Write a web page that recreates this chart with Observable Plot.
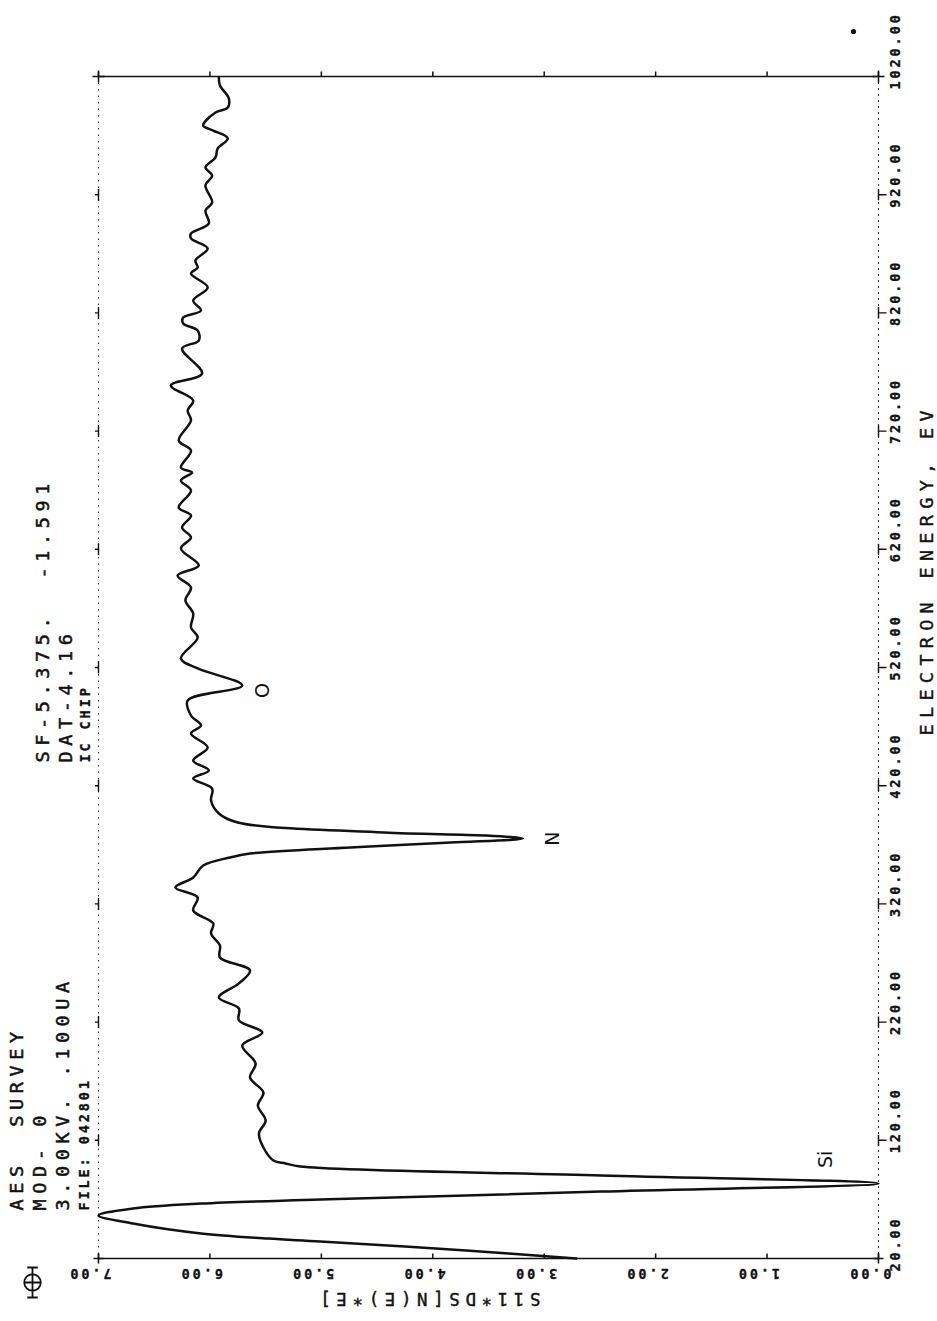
<!DOCTYPE html>
<html>
<head>
<meta charset="utf-8">
<script src="https://cdn.jsdelivr.net/npm/d3@7"></script>
<script src="https://cdn.jsdelivr.net/npm/@observablehq/plot@0.6"></script>
<style>
  html, body { margin: 0; padding: 0; background: #fff; }
  #chart svg { display: block; }
  #chart svg text { white-space: pre; }
  g[aria-description="plotter-large"] text { letter-spacing: 5.6px; }
  g[aria-description="plotter-title"] text { letter-spacing: 6.3px; }
  g[aria-description="plotter-small"] text { letter-spacing: 2.9px; }
</style>
</head>
<body>
<div id="chart"></div>
<script>
// AES survey spectrum, IC chip: derivative signal vs electron energy
const energyEV = [20.0, 26.8, 34.4, 36.9, 41.2, 49.6, 56.4, 62.3, 66.5, 69.9,
  76.6, 83.5, 90.2, 97.8, 100.4, 102.9, 113.9, 125.8, 136.8, 149.4,
  160.4, 173.1, 185.0, 200.2, 211.2, 221.4, 231.5, 240.8, 252.7, 263.7,
  274.7, 284.8, 295.0, 303.4, 314.4, 325.4, 333.9, 342.3, 352.5, 359.3,
  362.6, 367.7, 371.9, 375.3, 377.9, 380.4, 388.9, 396.5, 407.5, 417.6,
  426.1, 432.9, 441.3, 452.3, 464.2, 470.9, 479.4, 492.1, 504.8, 519.2,
  527.6, 545.4, 553.8, 565.7, 576.7, 587.7, 597.8, 606.3, 620.7, 630.0,
  638.4, 648.6, 655.4, 669.7, 678.2, 685.0, 689.2, 703.6, 712.0, 729.0,
  737.4, 745.9, 758.6, 768.7, 789.9, 796.6, 805.1, 811.0, 816.1, 822.0,
  830.5, 841.5, 853.3, 858.4, 864.3, 874.5, 883.0, 887.2, 895.6, 906.6,
  913.4, 927.8, 936.2, 943.0, 951.5, 959.1, 967.6, 974.3, 978.5, 989.5,
  993.8, 1001.4, 1012.4, 1019.2];

const signal = [2.71, 3.70, 5.01, 5.48, 6.08, 6.69, 7.00, 6.69, 6.08, 5.01,
  2.49, 0.00, 2.49, 5.19, 5.32, 5.43, 5.52, 5.56, 5.50, 5.57,
  5.52, 5.64, 5.59, 5.71, 5.53, 5.74, 5.74, 5.92, 5.74, 5.64,
  5.91, 5.91, 5.99, 5.97, 6.15, 6.11, 6.31, 6.15, 6.06, 5.82,
  5.64, 4.74, 3.84, 3.19, 3.54, 4.44, 5.75, 5.92, 5.99, 5.98,
  6.15, 6.01, 6.15, 6.02, 6.17, 6.08, 6.17, 6.20, 5.71, 6.11,
  6.26, 6.11, 6.17, 6.15, 6.22, 6.17, 6.29, 6.10, 6.26, 6.17,
  6.25, 6.17, 6.28, 6.17, 6.26, 6.16, 6.26, 6.17, 6.28, 6.17,
  6.20, 6.15, 6.35, 6.07, 6.25, 6.10, 6.11, 6.24, 6.24, 6.08,
  6.15, 6.02, 6.17, 6.11, 6.13, 6.02, 6.17, 6.17, 6.01, 6.04,
  5.98, 6.04, 5.98, 6.04, 5.95, 5.93, 5.84, 5.97, 6.06, 5.95,
  5.84, 5.83, 5.91, 5.92];

const energyTicks = [20, 120, 220, 320, 420, 520, 620, 720, 820, 920, 1020];
const energyTickLabels = ["20.00", "120.00", "220.00", "320.00", "420.00", "520.00",
  "620.00", "720.00", "820.00", "920.00", "1020.00"];
const valueTicks = [7, 6, 5, 4, 3, 2, 1, 0];
const valueTickLabels = ["7.00", "6.00", "5.00", "4.00", "3.00", "2.00", "1.00", "0.00"];

// hand-written element marks at the Auger dips
const peakNames = ["Si", "N", "O"];
const peakEnergies = [83.5, 375.3, 504.8];

const runHeader = ["AES  SURVEY", "MOD- 0", "3.00KV. .100UA", "FILE: 042801"];
const sampleHeader = ["SF-5.375.  -1.591", "DAT-4.16", "IC CHIP"];
const xTitle = "ELECTRON ENERGY, EV";
const yTitle = "S11*DS[N(E)*E]";

const rows = energyEV.map((e, i) => ({energy: e, signal: signal[i]}));
const peaks = peakNames.map((name, i) => {
  const k = energyEV.indexOf(peakEnergies[i]);
  return {name, energy: energyEV[k], signal: signal[k]};
});

const mono = "'DejaVu Sans Mono', 'Liberation Mono', monospace";
const ink = "#111";

// small pen-plotter glyphs used as tick marks
const glyph = (fn) => ({draw(ctx, size) { fn(ctx, Math.sqrt(size / Math.PI)); }});
const tickUp = glyph((c, r) => { c.moveTo(0, 0); c.lineTo(0, -r); });
const tickCross = glyph((c, r) => { c.moveTo(0, -r); c.lineTo(0, r); c.moveTo(-r, 0); c.lineTo(r, 0); });
const tickRight = glyph((c, r) => { c.moveTo(0, -r * 0.7); c.lineTo(0, r * 0.7); c.moveTo(0, 0); c.lineTo(r, 0); });
const tickLeft = glyph((c, r) => { c.moveTo(0, -r); c.lineTo(0, r); c.moveTo(0, 0); c.lineTo(-r * 0.6, 0); });
const penMark = glyph((c, r) => {
  const a = r * 0.55;
  c.moveTo(a, 0); c.arc(0, 0, a, 0, 2 * Math.PI);
  c.moveTo(-a, 0); c.lineTo(a, 0);
  c.moveTo(0, -r); c.lineTo(0, r);
  c.moveTo(-r * 0.35, -r); c.lineTo(r * 0.35, -r);
  c.moveTo(-r * 0.35, r); c.lineTo(r * 0.35, r);
});

const headerLine = (text, dx, dy, small) => Plot.text([text], {
  text: d => d, frameAnchor: "bottom-left", dx, dy,
  rotate: -90, textAnchor: "start", lineAnchor: "middle",
  fontFamily: mono, fontSize: small ? 13.5 : 18.5, fontWeight: small ? "bold" : "normal",
  fill: ink, stroke: ink, strokeWidth: small ? 0.3 : 0.5,
  ariaDescription: small ? "plotter-small" : "plotter-large"
});

const peakLabel = (i, dx, dy) => Plot.text([peaks[i]], {
  x: "signal", y: "energy", text: "name", dx, dy, rotate: -90,
  textAnchor: "middle", lineAnchor: "middle",
  fontFamily: "'DejaVu Sans', sans-serif", fontSize: 19, fill: ink
});

const chart = Plot.plot({
  width: 937,
  height: 1321,
  marginLeft: 98,
  marginRight: 59,
  marginTop: 76,
  marginBottom: 63,
  x: {domain: [0, 7], reverse: true, axis: null},
  y: {domain: [20, 1020], axis: null},
  style: {background: "#fff", overflow: "visible"},
  marks: [
    // frame: solid value borders, dotted energy borders
    Plot.ruleY([1020], {stroke: ink, strokeWidth: 1.6}),
    Plot.ruleY([20], {stroke: ink, strokeWidth: 1.6}),
    Plot.ruleX([7], {stroke: "#333", strokeWidth: 1.1, strokeDasharray: "1.5 5"}),
    Plot.ruleX([0], {stroke: "#333", strokeWidth: 1.1, strokeDasharray: "2 4"}),

    // tick marks
    Plot.dot(valueTicks, {x: d => d, frameAnchor: "bottom", symbol: tickUp, r: 5, fill: "none", stroke: ink, strokeWidth: 1.5}),
    Plot.dot(valueTicks, {x: d => d, frameAnchor: "top", symbol: tickUp, r: 5, fill: "none", stroke: ink, strokeWidth: 1.5}),
    Plot.dot([7, 0], {x: d => d, frameAnchor: "bottom", symbol: tickCross, r: 5, fill: "none", stroke: ink, strokeWidth: 1.5}),
    Plot.dot([7, 0], {x: d => d, frameAnchor: "top", symbol: tickCross, r: 6, fill: "none", stroke: ink, strokeWidth: 1.5}),
    Plot.dot(energyTicks.slice(1, -1), {y: d => d, frameAnchor: "right", symbol: tickRight, r: 8, fill: "none", stroke: ink, strokeWidth: 1.4}),
    Plot.dot(energyTicks.slice(1, -1), {y: d => d, frameAnchor: "left", symbol: tickLeft, r: 6, fill: "none", stroke: ink, strokeWidth: 1.4}),

    // tick labels
    Plot.text(energyTicks, {
      y: d => d, text: (d, i) => energyTickLabels[i], frameAnchor: "right",
      dx: 17, dy: 13, rotate: -90, textAnchor: "start", lineAnchor: "middle",
      fontFamily: mono, fontSize: 13.5, fontWeight: "bold", fill: ink, stroke: ink, strokeWidth: 0.3,
      ariaDescription: "plotter-small"
    }),
    Plot.text(valueTicks, {
      x: d => d, text: (d, i) => valueTickLabels[i], frameAnchor: "bottom",
      dx: 13, dy: 15, rotate: 180, textAnchor: "start", lineAnchor: "middle",
      fontFamily: mono, fontSize: 13.5, fontWeight: "bold", fill: ink, stroke: ink, strokeWidth: 0.3,
      ariaDescription: "plotter-small"
    }),

    // axis titles
    Plot.text([xTitle], {
      text: d => d, frameAnchor: "bottom-right", dx: 49, dy: -523,
      rotate: -90, textAnchor: "start", lineAnchor: "middle",
      fontFamily: mono, fontSize: 18.5, fill: ink, stroke: ink, strokeWidth: 0.4,
      ariaDescription: "plotter-title"
    }),
    Plot.text([yTitle], {
      text: d => d, frameAnchor: "bottom-left", dx: 442, dy: 40,
      rotate: 180, textAnchor: "start", lineAnchor: "middle",
      fontFamily: mono, fontSize: 17.5, fill: ink, stroke: ink, strokeWidth: 0.4,
      ariaDescription: "plotter-large"
    }),

    // run header blocks
    headerLine(runHeader[0], -81, -48, false),
    headerLine(runHeader[1], -58, -48, false),
    headerLine(runHeader[2], -35, -48, false),
    headerLine(runHeader[3], -14, -48, true),
    headerLine(sampleHeader[0], -55, -496, false),
    headerLine(sampleHeader[1], -32, -496, false),
    headerLine(sampleHeader[2], -13, -496, true),

    // pen marker and stray pen dot
    Plot.dot([0], {frameAnchor: "bottom-left", dx: -66, dy: 24, symbol: penMark, r: 15, fill: "none", stroke: ink, strokeWidth: 1.8}),
    Plot.dot([0], {frameAnchor: "top-right", dx: -25, dy: -45, r: 2.6, fill: ink}),

    // spectrum trace
    Plot.line(rows, {x: "signal", y: "energy", curve: "catmull-rom", stroke: ink, strokeWidth: 2.5, strokeLinejoin: "round"}),

    // element labels at the dips
    peakLabel(0, -53, -24),
    peakLabel(1, 30, 0),
    peakLabel(2, 21, 5)
  ]
});

document.getElementById("chart").appendChild(chart);
</script>
</body>
</html>
